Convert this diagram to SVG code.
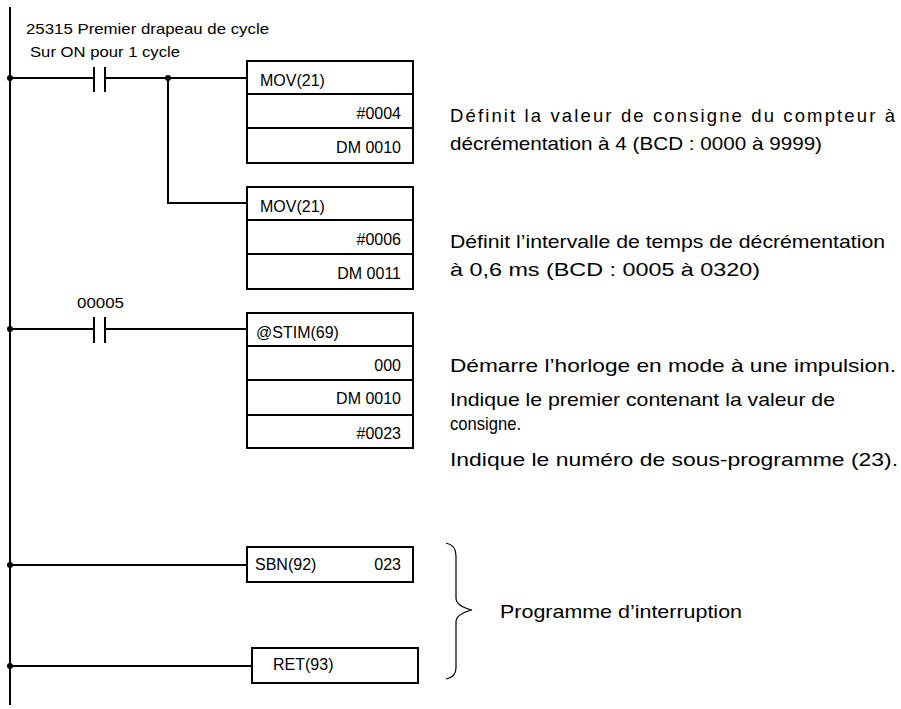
<svg xmlns="http://www.w3.org/2000/svg" width="901" height="709" viewBox="0 0 901 709">
<style>
text{font-family:"Liberation Sans",Arial,sans-serif;fill:#000}
.s{font-size:15px}
.r{font-size:16px}
.d{font-size:18.5px}
.box{fill:#fff;stroke:#000;stroke-width:2}
.w{stroke:#000;stroke-width:2;fill:none}
</style>
<rect width="901" height="709" fill="#fff"/>
<g id="connectors">
<line class="w" x1="10" y1="7" x2="10" y2="705"/>
<path class="w" d="M10 78H94M105 78H247M168 78V203H247"/>
<path class="w" d="M94 67V92M105 67V92"/>
<path class="w" d="M10 329H94M105 329H247M94 317V343M105 317V343"/>
<path class="w" d="M10 565H247M10 666H252"/>
<circle cx="10" cy="78" r="3"/><circle cx="168" cy="78" r="3"/>
<circle cx="10" cy="329" r="3"/><circle cx="10" cy="565" r="3"/><circle cx="10" cy="666" r="3"/>
<path d="M446 543Q456 545 456 556V598Q456 606 472 610Q456 614 456 622V668Q456 677 446 679" fill="none" stroke="#000" stroke-width="1.2"/>
</g>
<g id="labels">
<text class="s" x="26" y="34" textLength="243" lengthAdjust="spacingAndGlyphs">25315 Premier drapeau de cycle</text>
<text class="s" x="30" y="57" textLength="150" lengthAdjust="spacingAndGlyphs">Sur ON pour 1 cycle</text>
<text class="s" x="77" y="308" textLength="47" lengthAdjust="spacingAndGlyphs">00005</text>
</g>
<g id="mov1">
<rect class="box" x="247" y="61" width="166" height="102"/>
<path class="w" d="M247 94H413M247 128H413"/>
<text class="r" x="260" y="86">MOV(21)</text>
<text class="r" x="401" y="119" text-anchor="end">#0004</text>
<text class="r" x="401" y="153" text-anchor="end">DM 0010</text>
</g>
<g id="mov2">
<rect class="box" x="247" y="187" width="166" height="102"/>
<path class="w" d="M247 220H413M247 254H413"/>
<text class="r" x="260" y="212">MOV(21)</text>
<text class="r" x="401" y="245" text-anchor="end">#0006</text>
<text class="r" x="401" y="279" text-anchor="end">DM 0011</text>
</g>
<g id="stim">
<rect class="box" x="247" y="313" width="166" height="135"/>
<path class="w" d="M247 346H413M247 380H413M247 415H413"/>
<text class="r" x="256" y="338">@STIM(69)</text>
<text class="r" x="401" y="371" text-anchor="end">000</text>
<text class="r" x="401" y="404" text-anchor="end">DM 0010</text>
<text class="r" x="401" y="439" text-anchor="end">#0023</text>
</g>
<g id="sbn">
<rect class="box" x="247" y="547" width="166" height="35"/>
<text class="r" x="255" y="570">SBN(92)</text>
<text class="r" x="401" y="570" text-anchor="end">023</text>
</g>
<g id="ret">
<rect class="box" x="252" y="648" width="166" height="35"/>
<text class="r" x="273" y="670">RET(93)</text>
</g>
<g id="notes">
<text class="d" x="450" y="122" textLength="445" lengthAdjust="spacing">Définit la valeur de consigne du compteur à</text>
<text class="d" x="450" y="150" textLength="372" lengthAdjust="spacingAndGlyphs">décrémentation à 4 (BCD : 0000 à 9999)</text>
<text class="d" x="450" y="248" textLength="435" lengthAdjust="spacingAndGlyphs">Définit l’intervalle de temps de décrémentation</text>
<text class="d" x="450" y="276" textLength="310" lengthAdjust="spacingAndGlyphs">à 0,6 ms (BCD : 0005 à 0320)</text>
<text class="d" x="450" y="372" textLength="446" lengthAdjust="spacingAndGlyphs">Démarre l’horloge en mode à une impulsion.</text>
<text class="d" x="450" y="406" textLength="385" lengthAdjust="spacingAndGlyphs">Indique le premier contenant la valeur de</text>
<text class="d" x="450" y="430" textLength="71" lengthAdjust="spacingAndGlyphs">consigne.</text>
<text class="d" x="450" y="466" textLength="448" lengthAdjust="spacingAndGlyphs">Indique le numéro de sous-programme (23).</text>
<text class="d" x="500" y="618" textLength="242" lengthAdjust="spacingAndGlyphs">Programme d’interruption</text>
</g>
</svg>
